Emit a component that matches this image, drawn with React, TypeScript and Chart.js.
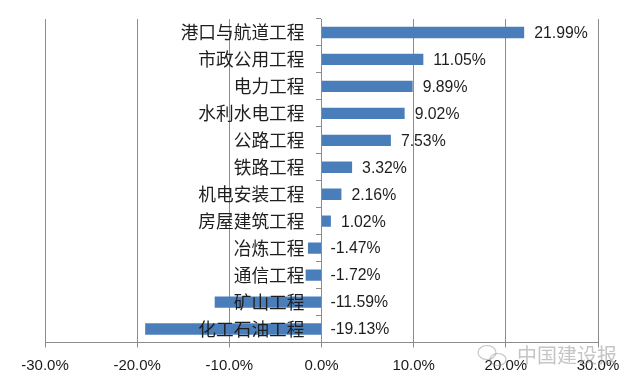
import React, { useEffect, useRef } from 'react';
import { Chart, registerables } from 'chart.js';

Chart.register(...registerables);

const categories = [
  '港口与航道工程',
  '市政公用工程',
  '电力工程',
  '水利水电工程',
  '公路工程',
  '铁路工程',
  '机电安装工程',
  '房屋建筑工程',
  '冶炼工程',
  '通信工程',
  '矿山工程',
  '化工石油工程',
];
const growthRates = [21.99, 11.05, 9.89, 9.02, 7.53, 3.32, 2.16, 1.02, -1.47, -1.72, -11.59, -19.13];
const xMin = -30;
const xMax = 30;
const xStep = 10;
const watermarkText = '中国建设报';

const labelPlugin = {
  id: 'customLabels',
  afterDatasetsDraw(chart: any) {
    const ctx = chart.ctx;
    const xs = chart.scales.x;
    const ys = chart.scales.y;
    const zero = xs.getPixelForValue(0);
    const meta = chart.getDatasetMeta(0);
    ctx.save();
    ctx.textBaseline = 'middle';
    ctx.fillStyle = '#1e1e1e';
    ctx.font = '17.7px "Noto Sans CJK SC"';
    ctx.textAlign = 'right';
    categories.forEach((c, i) => {
      ctx.fillText(c, zero - 17, ys.getPixelForValue(i));
    });
    ctx.font = '15.8px "Liberation Sans"';
    ctx.textAlign = 'left';
    meta.data.forEach((bar: any, i: number) => {
      const v = growthRates[i];
      const x = v >= 0 ? bar.x + 10 : zero + 9;
      ctx.fillText(v.toFixed(2) + '%', x, bar.y + 1);
    });
    // watermark
    const area = chart.chartArea;
    const wx = area.right - 81;
    const wy = area.bottom + 13;
    ctx.fillStyle = 'rgba(150,150,150,0.55)';
    ctx.font = '20px "Noto Sans CJK SC"';
    ctx.textAlign = 'left';
    ctx.fillText(watermarkText, wx, wy);
    ctx.strokeStyle = 'rgba(150,150,150,0.55)';
    ctx.lineWidth = 1.2;
    ctx.beginPath();
    ctx.ellipse(wx - 30, wy - 3, 9, 7, 0, 0, Math.PI * 2);
    ctx.stroke();
    ctx.beginPath();
    ctx.ellipse(wx - 19, wy + 4, 8, 6, 0, 0, Math.PI * 2);
    ctx.stroke();
    ctx.restore();
  },
};

export default function App() {
  const ref = useRef<HTMLCanvasElement>(null);
  useEffect(() => {
    if (!ref.current) return;
    const chart = new Chart(ref.current, {
      type: 'bar',
      data: {
        labels: categories,
        datasets: [
          {
            data: growthRates,
            backgroundColor: '#4a7ebb',
            borderWidth: 0,
            barPercentage: 0.42,
            categoryPercentage: 1,
          },
        ],
      },
      options: {
        indexAxis: 'y',
        animation: false,
        responsive: true,
        maintainAspectRatio: false,
        layout: { padding: { left: 45, right: 42, top: 19, bottom: -0.5 } },
        plugins: {
          legend: { display: false },
          tooltip: { enabled: false },
        },
        scales: {
          x: {
            type: 'linear',
            min: xMin,
            max: xMax,
            ticks: {
              stepSize: xStep,
              callback: (v: any) => Number(v).toFixed(1) + '%',
              font: { family: '"Liberation Sans"', size: 15 },
              color: '#1a1a1a',
              padding: 9.5,
            },
            grid: {
              color: '#8c8c8c',
              lineWidth: 1,
              tickLength: 5,
              drawTicks: true,
            },
            border: { color: '#8c8c8c', width: 1 },
          },
          y: {
            type: 'category',
            position: { x: 0 },
            z: 1,
            ticks: { display: false },
            grid: {
              drawOnChartArea: false,
              drawTicks: true,
              tickLength: 5,
              color: '#8c8c8c',
              offset: true,
            },
            border: { color: '#8c8c8c', width: 1 },
          },
        },
      },
      plugins: [labelPlugin],
    } as any);
    return () => chart.destroy();
  }, []);
  return (
    <div style={{ position: 'absolute', left: 0, top: 0, width: 640, height: 384, background: '#fff' }}>
      <canvas ref={ref} />
    </div>
  );
}
